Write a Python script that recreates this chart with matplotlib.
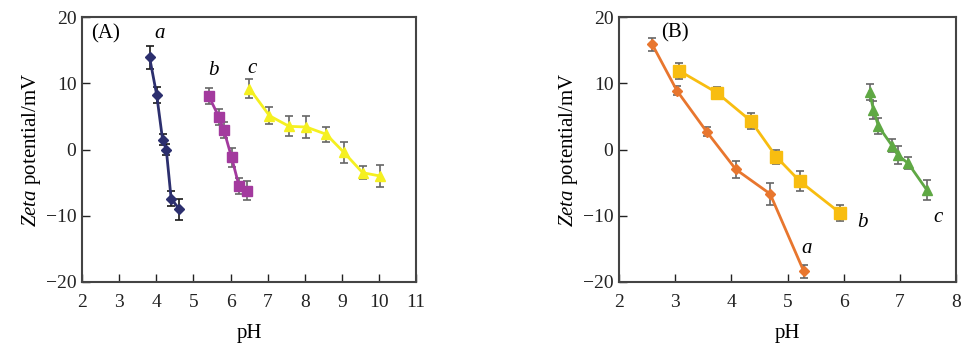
import matplotlib
matplotlib.use("Agg")
import matplotlib.pyplot as plt

plt.rcParams['font.family'] = ['Liberation Serif', 'DejaVu Serif']
plt.rcParams['mathtext.fontset'] = 'custom'
plt.rcParams['mathtext.rm'] = 'Liberation Serif'
plt.rcParams['mathtext.it'] = 'Liberation Serif:italic'

# panel A
a_ph = [3.82, 4.01, 4.17, 4.27, 4.40, 4.62]
a_zeta = [13.9, 8.3, 1.5, 0.0, -7.4, -9.0]
a_err = [1.8, 1.2, 0.8, 0.8, 1.2, 1.6]

b_ph = [5.41, 5.69, 5.82, 6.03, 6.23, 6.44]
b_zeta = [8.1, 4.9, 2.95, -1.2, -5.5, -6.2]
b_err = [1.2, 1.2, 1.2, 1.4, 1.2, 1.4]

c_ph = [6.51, 7.05, 7.58, 8.04, 8.58, 9.05, 9.56, 10.03]
c_zeta = [9.2, 5.1, 3.5, 3.4, 2.3, -0.4, -3.5, -4.0]
c_err = [1.4, 1.3, 1.5, 1.6, 1.1, 1.6, 1.0, 1.6]

# panel B
ba_ph = [2.59, 3.03, 3.56, 4.08, 4.69, 5.29]
ba_zeta = [15.9, 8.9, 2.7, -3.0, -6.7, -18.4]
ba_err = [1.0, 0.7, 0.7, 1.3, 1.7, 1.0]

bb_ph = [3.07, 3.74, 4.35, 4.80, 5.22, 5.94]
bb_zeta = [11.9, 8.6, 4.3, -1.1, -4.8, -9.6]
bb_err = [1.2, 0.9, 1.2, 1.1, 1.5, 1.2]

bc_ph = [6.46, 6.53, 6.62, 6.86, 6.96, 7.15, 7.48]
bc_zeta = [8.7, 6.0, 3.5, 0.6, -0.8, -2.1, -6.1]
bc_err = [1.2, 1.4, 1.2, 1.0, 1.4, 0.9, 1.5]


def series(ax, x, y, err, color, marker, ms, ecolor='#666666'):
    ax.errorbar(x, y, yerr=err, color=color, marker=marker, ms=ms, lw=2,
                ecolor=ecolor, elinewidth=1.2, capsize=3, capthick=1.2, zorder=3)


def style(ax, xlim, xticks):
    ax.set_xlim(*xlim)
    ax.set_ylim(-20, 20)
    ax.set_xticks(xticks)
    ax.set_yticks([-20, -10, 0, 10, 20])
    ax.tick_params(direction='in', length=6, width=1, labelsize=14, colors='#222222')
    ax.tick_params(axis='x', pad=9)
    ax.tick_params(axis='y', pad=4)
    for s in ax.spines.values():
        s.set_color('#444444')
        s.set_linewidth(1.5)
    ax.set_xlabel('pH', fontsize=15, labelpad=9)
    ax.set_ylabel('$\\mathit{Zeta}$ potential/mV', fontsize=15, labelpad=2)


fig = plt.figure(figsize=(9.79, 3.56), dpi=100)
ax1 = fig.add_axes([0.0838, 0.208, 0.3412, 0.744])
ax2 = fig.add_axes([0.6323, 0.208, 0.3442, 0.744])

series(ax1, a_ph, a_zeta, a_err, '#2c2f6e', 'D', 5, ecolor='#1a1a1a')
series(ax1, b_ph, b_zeta, b_err, '#a33a9e', 's', 7)
series(ax1, c_ph, c_zeta, c_err, '#f5f020', '^', 7)
style(ax1, (2, 11), range(2, 12))
ax1.text(2.25, 17.5, '(A)', fontsize=15, va='center')
ax1.text(3.95, 17.5, 'a', fontsize=15, style='italic', va='center')
ax1.text(5.4, 12, 'b', fontsize=15, style='italic', va='center')
ax1.text(6.45, 12.3, 'c', fontsize=15, style='italic', va='center')

series(ax2, ba_ph, ba_zeta, ba_err, '#e8762e', 'D', 5)
series(ax2, bb_ph, bb_zeta, bb_err, '#f8bd10', 's', 8)
series(ax2, bc_ph, bc_zeta, bc_err, '#5fa844', '^', 7)
style(ax2, (2, 8), range(2, 9))
ax2.text(2.75, 17.6, '(B)', fontsize=15, va='center')
ax2.text(5.25, -15, 'a', fontsize=15, style='italic', va='center')
ax2.text(6.25, -11, 'b', fontsize=15, style='italic', va='center')
ax2.text(7.6, -10.2, 'c', fontsize=15, style='italic', va='center')

fig.savefig('out.png', dpi=100)
